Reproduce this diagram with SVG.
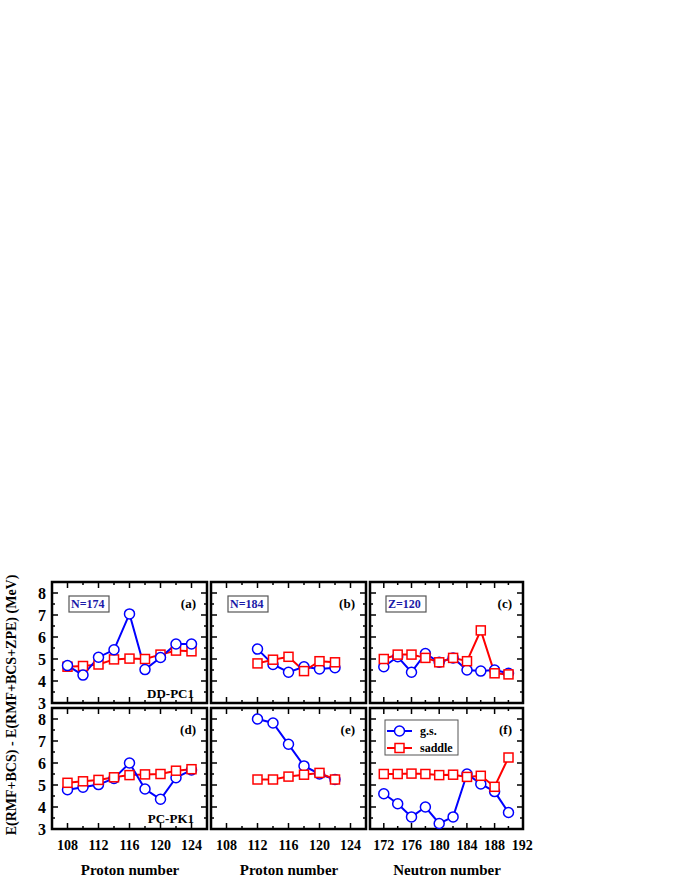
<svg xmlns="http://www.w3.org/2000/svg" width="680" height="880" viewBox="0 0 680 880">
<style>
text{font-family:"Liberation Serif","Times New Roman",serif;font-weight:bold;fill:#000}
.tl{font-size:16px;text-anchor:end}
.xl{font-size:14px;text-anchor:middle}
.ti{font-size:15px;text-anchor:middle}
.pl{font-size:13px;text-anchor:end}
.bx{font-size:12px;fill:#1a1aa8}
.fr{fill:none;stroke:#000;stroke-width:2.5}
.tk{fill:none;stroke:#000;stroke-width:1.5}
.gs{fill:none;stroke:#0000ff;stroke-width:2}
.sd{fill:none;stroke:#ff0000;stroke-width:2}
.c{fill:#fff;stroke:#0000ff;stroke-width:1.5}
.s{fill:#fff;stroke:#ff0000;stroke-width:1.5}
</style>
<defs>
<path id="yt" d="M0 11h6M0 33h6M0 55h6M0 77h6M0 99h6M0 22h3M0 44h3M0 66h3M0 88h3M0 110h3"/>
<g id="pP">
<rect class="fr" x="0" y="0" width="155" height="121"/>
<path class="tk" d="M0 11h6M0 33h6M0 55h6M0 77h6M0 99h6M0 22h3M0 44h3M0 66h3M0 88h3M0 110h3M155 11h-6M155 33h-6M155 55h-6M155 77h-6M155 99h-6M155 22h-3M155 44h-3M155 66h-3M155 88h-3M155 110h-3M15.5 121v-6M46.5 121v-6M77.5 121v-6M108.5 121v-6M139.5 121v-6M31 121v-3M62 121v-3M93 121v-3M124 121v-3M15.5 0v6M46.5 0v6M77.5 0v6M108.5 0v6M139.5 0v6M31 0v3M62 0v3M93 0v3M124 0v3"/>
</g>
<g id="pN">
<rect class="fr" x="0" y="0" width="153" height="121"/>
<path class="tk" d="M0 11h6M0 33h6M0 55h6M0 77h6M0 99h6M0 22h3M0 44h3M0 66h3M0 88h3M0 110h3M153 11h-6M153 33h-6M153 55h-6M153 77h-6M153 99h-6M153 22h-3M153 44h-3M153 66h-3M153 88h-3M153 110h-3M13.8 121v-6M41.5 121v-6M69.2 121v-6M96.9 121v-6M124.6 121v-6M27.7 121v-3M55.4 121v-3M83 121v-3M110.7 121v-3M138.4 121v-3M13.8 0v6M41.5 0v6M69.2 0v6M96.9 0v6M124.6 0v6M27.7 0v3M55.4 0v3M83 0v3M110.7 0v3M138.4 0v3"/>
</g>
<circle id="ci" class="c" r="5"/>
<rect id="sq" class="s" x="-4.5" y="-4.5" width="9" height="9"/>
</defs>

<g id="frames">
<use href="#pP" x="52" y="582"/><use href="#pP" x="211" y="582"/><use href="#pN" x="370" y="582"/>
<use href="#pP" x="52" y="708"/><use href="#pP" x="211" y="708"/><use href="#pN" x="370" y="708"/>
</g>

<g id="axes">
<text class="tl" x="46" y="599">8</text><text class="tl" x="46" y="621">7</text><text class="tl" x="46" y="643">6</text><text class="tl" x="46" y="665">5</text><text class="tl" x="46" y="687">4</text><text class="tl" x="46" y="709">3</text>
<text class="tl" x="46" y="725">8</text><text class="tl" x="46" y="747">7</text><text class="tl" x="46" y="769">6</text><text class="tl" x="46" y="791">5</text><text class="tl" x="46" y="813">4</text><text class="tl" x="46" y="835">3</text>
<text class="xl" x="67.5" y="850">108</text><text class="xl" x="98.5" y="850">112</text><text class="xl" x="129.5" y="850">116</text><text class="xl" x="160.5" y="850">120</text><text class="xl" x="191.5" y="850">124</text>
<text class="xl" x="226.5" y="850">108</text><text class="xl" x="257.5" y="850">112</text><text class="xl" x="288.5" y="850">116</text><text class="xl" x="319.5" y="850">120</text><text class="xl" x="350.5" y="850">124</text>
<text class="xl" x="383.8" y="850">172</text><text class="xl" x="411.5" y="850">176</text><text class="xl" x="439.2" y="850">180</text><text class="xl" x="467" y="850">184</text><text class="xl" x="494.6" y="850">188</text><text class="xl" x="522.3" y="850">192</text>
<text class="ti" x="130" y="875">Proton number</text><text class="ti" x="289" y="875">Proton number</text><text class="ti" x="447" y="875">Neutron number</text>
<text class="ti" transform="translate(16 705) rotate(-90)" style="font-size:14px">E(RMF+BCS) - E(RMF+BCS+ZPE) (MeV)</text>
</g>

<g id="labels">
<rect x="69" y="596" width="40" height="16" fill="none" stroke="#555" stroke-width="1.2"/><text class="bx" x="71" y="608">N=174</text>
<rect x="228" y="596" width="40" height="16" fill="none" stroke="#555" stroke-width="1.2"/><text class="bx" x="230" y="608">N=184</text>
<rect x="386" y="596" width="40" height="16" fill="none" stroke="#555" stroke-width="1.2"/><text class="bx" x="388" y="608">Z=120</text>
<text class="pl" x="196" y="608">(a)</text><text class="pl" x="355" y="608">(b)</text><text class="pl" x="512" y="608">(c)</text>
<text class="pl" x="196" y="734">(d)</text><text class="pl" x="355" y="734">(e)</text><text class="pl" x="512" y="734">(f)</text>
<text class="pl" x="194" y="698">DD-PC1</text><text class="pl" x="194" y="823">PC-PK1</text>
</g>

<g id="legend">
<rect x="385" y="720" width="73" height="35" fill="#fff" stroke="#555" stroke-width="1"/>
<path class="gs" d="M387 731h25"/><use href="#ci" x="399.5" y="731"/><text x="420" y="735" style="font-size:12px">g.s.</text>
<path class="sd" d="M387 748h25"/><use href="#sq" x="399.5" y="748"/><text x="420" y="752" style="font-size:12px">saddle</text>
</g>

<g id="connectors">
<polyline class="sd" points="67.5,666.7 83,666 98.5,664.5 114,659.4 129.5,658.6 145,659 160.5,654.6 176,650.6 191.5,651.3"/>
<polyline class="gs" points="67.5,665.6 83,675.1 98.5,657.2 114,649.8 129.5,613.9 145,669.6 160.5,657.5 176,644 191.5,644"/>
<polyline class="sd" points="67.5,782.8 83,781.3 98.5,779.9 114,777.3 129.5,775.1 145,774.4 160.5,774 176,770.7 191.5,769.2"/>
<polyline class="gs" points="67.5,789.8 83,787.2 98.5,784.6 114,778.4 129.5,763 145,789 160.5,799.3 176,777.7 191.5,770"/>
<polyline class="gs" points="257.5,649.1 273,664.5 288.5,672.2 304,666.7 319.5,668.9 335,667.8"/>
<polyline class="sd" points="257.5,663.4 273,659.7 288.5,656.8 304,671.1 319.5,661.2 335,662.3"/>
<polyline class="gs" points="257.5,719 273,723 288.5,744.3 304,765.9 319.5,774 335,779.5"/>
<polyline class="sd" points="257.5,779.5 273,779.5 288.5,776.6 304,774.7 319.5,772.9 335,779.5"/>
<polyline class="gs" points="383.8,666.7 397.7,656.8 411.5,672.2 425.4,653.5 439.2,662.3 453.1,657.9 467,670 480.8,671.1 494.6,670 508.5,673.3"/>
<polyline class="sd" points="383.8,659 397.7,654.6 411.5,654.6 425.4,657.9 439.2,662.3 453.1,657.9 467,661.2 480.8,630.4 494.6,673.3 508.5,674.4"/>
<polyline class="sd" points="383.8,774 397.7,774 411.5,773.6 425.4,774 439.2,775.1 453.1,774.7 467,776.9 480.8,775.8 494.6,786.8 508.5,757.5"/>
<polyline class="gs" points="383.8,793.8 397.7,803.7 411.5,816.9 425.4,807 439.2,823.5 453.1,816.9 467,774 480.8,783.9 494.6,791.6 508.5,812.5"/>
</g>

<g id="markers">
<use href="#sq" x="67.5" y="666.7"/><use href="#sq" x="83" y="666"/><use href="#sq" x="98.5" y="664.5"/><use href="#sq" x="114" y="659.4"/><use href="#sq" x="129.5" y="658.6"/><use href="#sq" x="145" y="659"/><use href="#sq" x="160.5" y="654.6"/><use href="#sq" x="176" y="650.6"/><use href="#sq" x="191.5" y="651.3"/>
<use href="#ci" x="67.5" y="665.6"/><use href="#ci" x="83" y="675.1"/><use href="#ci" x="98.5" y="657.2"/><use href="#ci" x="114" y="649.8"/><use href="#ci" x="129.5" y="613.9"/><use href="#ci" x="145" y="669.6"/><use href="#ci" x="160.5" y="657.5"/><use href="#ci" x="176" y="644"/><use href="#ci" x="191.5" y="644"/>
<use href="#ci" x="67.5" y="789.8"/><use href="#ci" x="83" y="787.2"/><use href="#ci" x="98.5" y="784.6"/><use href="#ci" x="114" y="778.4"/><use href="#ci" x="129.5" y="763"/><use href="#ci" x="145" y="789"/><use href="#ci" x="160.5" y="799.3"/><use href="#ci" x="176" y="777.7"/><use href="#ci" x="191.5" y="770"/>
<use href="#sq" x="67.5" y="782.8"/><use href="#sq" x="83" y="781.3"/><use href="#sq" x="98.5" y="779.9"/><use href="#sq" x="114" y="777.3"/><use href="#sq" x="129.5" y="775.1"/><use href="#sq" x="145" y="774.4"/><use href="#sq" x="160.5" y="774"/><use href="#sq" x="176" y="770.7"/><use href="#sq" x="191.5" y="769.2"/>
<use href="#ci" x="257.5" y="649.1"/><use href="#ci" x="273" y="664.5"/><use href="#ci" x="288.5" y="672.2"/><use href="#ci" x="304" y="666.7"/><use href="#ci" x="319.5" y="668.9"/><use href="#ci" x="335" y="667.8"/>
<use href="#sq" x="257.5" y="663.4"/><use href="#sq" x="273" y="659.7"/><use href="#sq" x="288.5" y="656.8"/><use href="#sq" x="304" y="671.1"/><use href="#sq" x="319.5" y="661.2"/><use href="#sq" x="335" y="662.3"/>
<use href="#ci" x="257.5" y="719"/><use href="#ci" x="273" y="723"/><use href="#ci" x="288.5" y="744.3"/><use href="#ci" x="304" y="765.9"/><use href="#ci" x="319.5" y="774"/><use href="#ci" x="335" y="779.5"/>
<use href="#sq" x="257.5" y="779.5"/><use href="#sq" x="273" y="779.5"/><use href="#sq" x="288.5" y="776.6"/><use href="#sq" x="304" y="774.7"/><use href="#sq" x="319.5" y="772.9"/><use href="#sq" x="335" y="779.5"/>
<use href="#ci" x="383.8" y="666.7"/><use href="#ci" x="397.7" y="656.8"/><use href="#ci" x="411.5" y="672.2"/><use href="#ci" x="425.4" y="653.5"/><use href="#ci" x="439.2" y="662.3"/><use href="#ci" x="453.1" y="657.9"/><use href="#ci" x="467" y="670"/><use href="#ci" x="480.8" y="671.1"/><use href="#ci" x="494.6" y="670"/><use href="#ci" x="508.5" y="673.3"/>
<use href="#sq" x="383.8" y="659"/><use href="#sq" x="397.7" y="654.6"/><use href="#sq" x="411.5" y="654.6"/><use href="#sq" x="425.4" y="657.9"/><use href="#sq" x="439.2" y="662.3"/><use href="#sq" x="453.1" y="657.9"/><use href="#sq" x="467" y="661.2"/><use href="#sq" x="480.8" y="630.4"/><use href="#sq" x="494.6" y="673.3"/><use href="#sq" x="508.5" y="674.4"/>
<use href="#ci" x="383.8" y="793.8"/><use href="#ci" x="397.7" y="803.7"/><use href="#ci" x="411.5" y="816.9"/><use href="#ci" x="425.4" y="807"/><use href="#ci" x="439.2" y="823.5"/><use href="#ci" x="453.1" y="816.9"/><use href="#ci" x="467" y="774"/><use href="#ci" x="480.8" y="783.9"/><use href="#ci" x="494.6" y="791.6"/><use href="#ci" x="508.5" y="812.5"/>
<use href="#sq" x="383.8" y="774"/><use href="#sq" x="397.7" y="774"/><use href="#sq" x="411.5" y="773.6"/><use href="#sq" x="425.4" y="774"/><use href="#sq" x="439.2" y="775.1"/><use href="#sq" x="453.1" y="774.7"/><use href="#sq" x="467" y="776.9"/><use href="#sq" x="480.8" y="775.8"/><use href="#sq" x="494.6" y="786.8"/><use href="#sq" x="508.5" y="757.5"/>
</g>
</svg>
